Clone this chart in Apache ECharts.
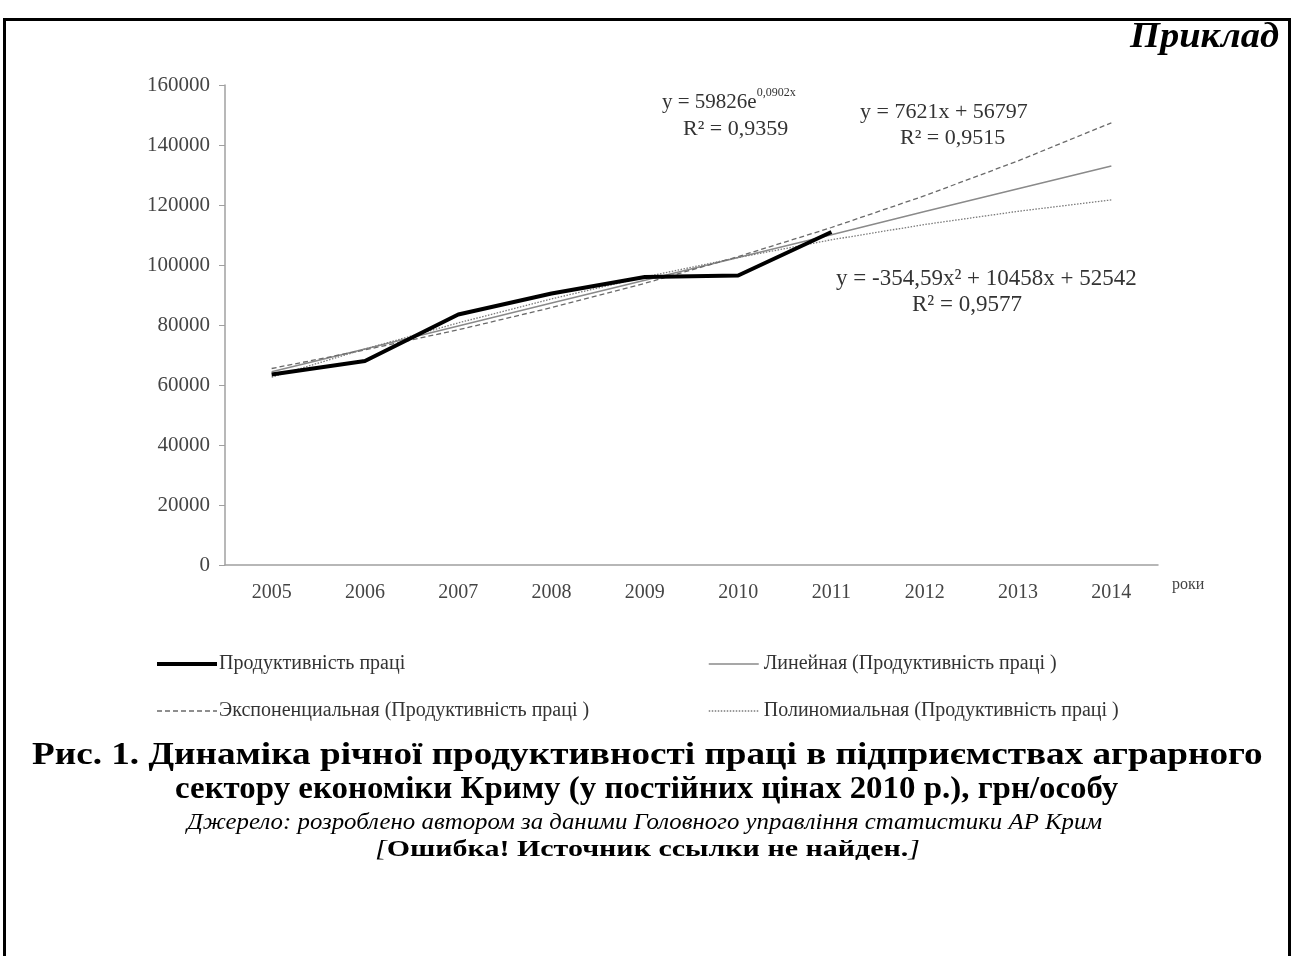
<!DOCTYPE html>
<html>
<head>
<meta charset="utf-8">
<script src="https://cdn.jsdelivr.net/npm/echarts@6/dist/echarts.min.js"></script>
<style>
html,body{margin:0;padding:0;background:#fff;}
#c{width:1294px;height:956px;}
</style>
</head>
<body>
<div id="c"></div>
<script>
const years = ['2005','2006','2007','2008','2009','2010','2011','2012','2013','2014'];
const productivity = [63500, 68000, 83500, 90500, 96000, 96500, 111000];
const trendLinear = [64400, 72000, 79700, 87300, 94900, 102500, 110100, 117800, 125400, 133000];
const trendExp = [65500, 71700, 78400, 85800, 93900, 102800, 112500, 123100, 134700, 147400];
const trendPoly = [62600, 72000, 80700, 88700, 96000, 102500, 108400, 113500, 117900, 121700];
const yTicks = [0, 20000, 40000, 60000, 80000, 100000, 120000, 140000, 160000];

const names = ['Продуктивність праці', 'Линейная (Продуктивність праці )',
  'Экспоненциальная (Продуктивність праці )', 'Полиномиальная (Продуктивність праці )'];

const serif = '"Liberation Serif", "DejaVu Serif", serif';
const eqColor = '#333';
const chart = echarts.init(document.getElementById('c'));

chart.setOption({
  animation: false,
  textStyle: {fontFamily: serif},
  grid: {left: 225, right: 136, top: 85, bottom: 391, containLabel: false},
  xAxis: {
    type: 'category', data: years, boundaryGap: true,
    name: 'роки', nameLocation: 'end', nameGap: 14,
    nameTextStyle: {fontFamily: serif, fontSize: 16, color: '#444', verticalAlign: 'top', padding: [12, 0, 0, 0]},
    axisLine: {lineStyle: {color: '#a0a0a0', width: 1.5}},
    axisTick: {show: false},
    axisLabel: {fontFamily: serif, fontSize: 20, color: '#444', margin: 18}
  },
  yAxis: {
    type: 'value', min: yTicks[0], max: yTicks[yTicks.length - 1], interval: 20000,
    axisLine: {show: true, lineStyle: {color: '#a0a0a0', width: 1.5}},
    axisTick: {show: true, length: 6, lineStyle: {color: '#a0a0a0'}},
    splitLine: {show: false},
    axisLabel: {fontFamily: serif, fontSize: 21, color: '#444', margin: 15, formatter: v => String(v)}
  },
  legend: [
    {left: 150, top: 649, orient: 'vertical', itemGap: 27, itemWidth: 60, itemHeight: 14,
     itemStyle: {opacity: 0},
     textStyle: {fontFamily: serif, fontSize: 20, color: '#333', padding: [0, 0, 0, -3]},
     data: [{name: names[0], lineStyle: {width: 4}}, {name: names[2], lineStyle: {width: 1.3}}]},
    {left: 703, top: 649, orient: 'vertical', itemGap: 27, itemWidth: 50, itemHeight: 14,
     itemStyle: {opacity: 0},
     textStyle: {fontFamily: serif, fontSize: 20, color: '#333', padding: [0, 0, 0, 0]},
     data: [{name: names[1], lineStyle: {width: 1.5}}, {name: names[3], lineStyle: {width: 1.3}}]}
  ],
  series: [
    {name: names[1], type: 'line', data: trendLinear, symbol: 'none', lineStyle: {color: '#8a8a8a', width: 1.5, type: 'solid'}, itemStyle: {color: '#8a8a8a'}, z: 2},
    {name: names[2], type: 'line', data: trendExp, symbol: 'none', lineStyle: {color: '#6a6a6a', width: 1.3, type: [5, 3]}, itemStyle: {color: '#6a6a6a'}, z: 2},
    {name: names[3], type: 'line', data: trendPoly, symbol: 'none', lineStyle: {color: '#7a7a7a', width: 1.3, type: [1.5, 1.5]}, itemStyle: {color: '#7a7a7a'}, z: 2},
    {name: names[0], type: 'line', data: productivity, symbol: 'none', lineStyle: {color: '#000', width: 4}, itemStyle: {color: '#000'}, z: 5}
  ],
  graphic: [
    {type: 'rect', shape: {x: 4.5, y: 19.5, width: 1285, height: 1000}, style: {fill: 'none', stroke: '#000', lineWidth: 3}, silent: true},
    {type: 'text', left: 1130, top: 20, scaleX: 1.1, style: {text: 'Приклад', font: 'italic bold 35px ' + serif, fill: '#000'}},
    {type: 'text', left: 662, top: 87, style: {text: '{n|y = 59826e}{s|0,0902x}', rich: {n: {fontSize: 21, fontFamily: serif, fill: eqColor, lineHeight: 26, verticalAlign: 'bottom'}, s: {fontSize: 12, fontFamily: serif, fill: eqColor, verticalAlign: 'top', lineHeight: 26}}}},
    {type: 'text', left: 683, top: 118, style: {text: 'R² = 0,9359', font: '22px ' + serif, fill: eqColor}},
    {type: 'text', left: 860, top: 101, style: {text: 'y = 7621x + 56797', font: '22px ' + serif, fill: eqColor}},
    {type: 'text', left: 900, top: 127, style: {text: 'R² = 0,9515', font: '22px ' + serif, fill: eqColor}},
    {type: 'text', left: 836, top: 267, style: {text: 'y = -354,59x² + 10458x + 52542', font: '23px ' + serif, fill: eqColor}},
    {type: 'text', left: 912, top: 293, style: {text: 'R² = 0,9577', font: '23px ' + serif, fill: eqColor}},
    {type: 'text', left: 32, top: 740, scaleX: 1.2, style: {text: 'Рис. 1. Динаміка річної продуктивності праці в підприємствах аграрного', font: 'bold 31px ' + serif, fill: '#000'}},
    {type: 'text', left: 175, top: 774, scaleX: 1.062, style: {text: 'сектору економіки Криму (у постійних цінах 2010 р.), грн/особу', font: 'bold 31px ' + serif, fill: '#000'}},
    {type: 'text', left: 187, top: 811, scaleX: 1.08, style: {text: 'Джерело: розроблено автором за даними Головного управління статистики АР Крим', font: 'italic 23px ' + serif, fill: '#000'}},
    {type: 'text', left: 375, top: 838, scaleX: 1.25, style: {text: '{i|[}{b|Ошибка! Источник ссылки не найден.}{i|]}', rich: {i: {fontFamily: serif, fontSize: 24, fontStyle: 'italic', fill: '#000'}, b: {fontFamily: serif, fontSize: 24, fontWeight: 'bold', fill: '#000'}}}}
  ]
});
</script>
</body>
</html>
